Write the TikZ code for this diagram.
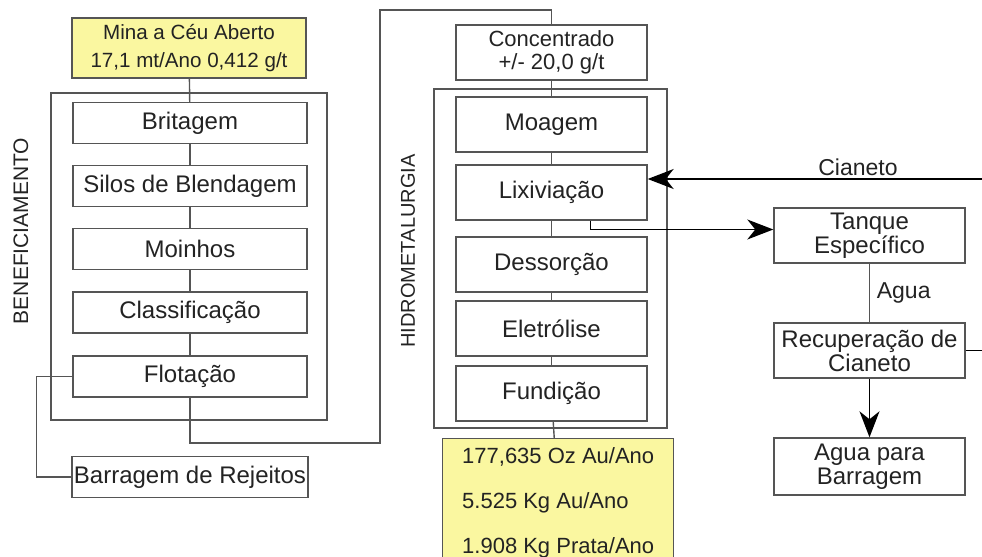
\documentclass[tikz,border=0pt]{standalone}
\usepackage{fontspec}
\setmainfont{Liberation Sans}
\usetikzlibrary{arrows.meta}
\definecolor{linegray}{RGB}{85,85,85}
\definecolor{txtgray}{RGB}{35,35,35}
\definecolor{amarelo}{RGB}{250,247,160}
\tikzset{
  linha/.style={draw=linegray, line width=0.7pt},
  etapa/.style={linha, fill=white, text=txtgray, align=center, inner sep=1pt,
    minimum width=117pt, minimum height=20.5pt, font=\fontsize{12}{12}\selectfont},
  hetapa/.style={etapa, minimum width=95.5pt, minimum height=27.5pt},
  amarela/.style={etapa, fill=amarelo},
  rotulo/.style={text=txtgray, font=\fontsize{11.5}{12}\selectfont},
  seta/.style={linha, -{Stealth[length=13pt,width=10pt,inset=4pt]}, color=black}
}
\begin{document}
\begin{tikzpicture}[x=0.5pt,y=-0.5pt]
            \useasboundingbox (0,0) rectangle (982,557);
            \fill[white] (0,0) rectangle (982,557);
            \draw[linha] (51,93) rectangle (327,420);
            \draw[linha] (434,89) rectangle (667,428);
            \node[rotate=90, text=txtgray, font=\fontsize{10.5}{11}\selectfont] (benef) at (21,231) {BENEFICIAMENTO};
            \node[rotate=90, text=txtgray, font=\fontsize{10}{11}\selectfont] (hidro) at (408,251) {HIDROMETALURGIA};
            \node[amarela, minimum height=30pt, font=\fontsize{10.3}{14}\selectfont] (mina) at (189,48) {Mina a Céu Aberto\\17,1 mt/Ano 0,412 g/t};
            \node[etapa] (brit) at (190,123) {Britagem};
            \node[etapa] (silos) at (190,186) {Silos de Blendagem};
            \node[etapa] (moin) at (190,249) {Moinhos};
            \node[etapa] (class) at (190,312.5) {Classificação};
            \node[etapa] (flot) at (190,376.5) {Flotação};
            \node[etapa] (barr) at (190,477) {Barragem de Rejeitos};
            \node[hetapa, font=\fontsize{11}{11.8}\selectfont] (conc) at (551.5,52.5) {Concentrado\\+/- 20,0 g/t};
            \node[hetapa] (moag) at (551.5,124.5) {Moagem};
            \node[hetapa] (lixi) at (551.5,192.5) {Lixiviação};
            \node[hetapa] (dess) at (551.5,264.5) {Dessorção};
            \node[hetapa] (elet) at (551.5,328.5) {Eletrólise};
            \node[hetapa] (fund) at (551.5,393.5) {Fundição};
            \node[amarela, anchor=north west, minimum width=115.5pt, minimum height=64pt,
                align=left, inner xsep=2pt, inner ysep=2pt,
                font=\fontsize{11}{22.5}\selectfont] (prod) at (442,438)
                {177,635 Oz Au/Ano\\5.525 Kg Au/Ano\\1.908 Kg Prata/Ano};
            \node[hetapa] (tanq) at (869.5,235.5) {Tanque\\Específico};
            \node[hetapa] (recu) at (869.5,350.5) {Recuperação de\\Cianeto};
            \node[hetapa, minimum height=28.5pt] (agua) at (869.5,466.5) {Agua para\\Barragem};
            \foreach \a/\b in {mina/brit,brit/silos,silos/moin,moin/class,class/flot,
                conc/moag,moag/lixi,lixi/dess,dess/elet,elet/fund,fund/prod}
                \draw[linha] (\a) -- (\b);
            \draw[linha] (flot.west) -- ++(-36,0) |- (barr.west);
            \draw[linha] (flot.south) |- (380,443) -- (380,10) -| (conc.north);
            \draw[seta] ([xshift=-28.5pt]lixi.south east) |- ([yshift=3pt]tanq.west);
            \draw[seta] (recu.east) -- ++(30,0) |- ([yshift=6.75pt]lixi.east);
            \node[rotulo] (cian) at (858,167) {Cianeto};
            \draw[linha] (tanq) -- (recu) node[rotulo, midway, right] {Agua};
            \draw[seta] (recu) -- (agua);
        \end{tikzpicture}
\end{document}
